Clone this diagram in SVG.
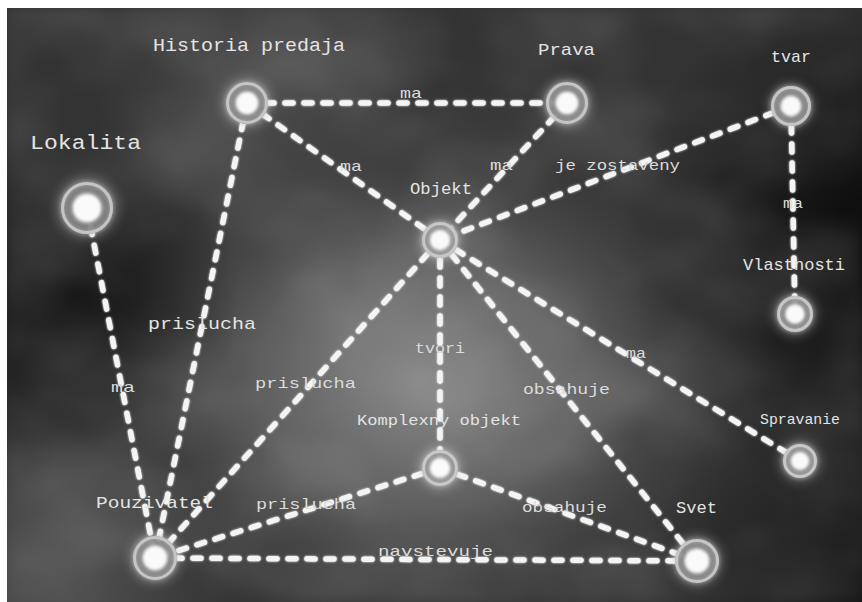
<svg xmlns="http://www.w3.org/2000/svg" width="862" height="602" viewBox="0 0 862 602">
  <defs>
    <!-- soft background lighting -->
    <radialGradient id="bgCenter" cx="420" cy="380" r="360" gradientUnits="userSpaceOnUse" gradientTransform="translate(420 380) scale(1 0.8) translate(-420 -380)">
      <stop offset="0" stop-color="#8c8c8c" stop-opacity="1"/>
      <stop offset="0.45" stop-color="#6a6a6a" stop-opacity="0.8"/>
      <stop offset="1" stop-color="#3a3a3a" stop-opacity="0"/>
    </radialGradient>
    <radialGradient id="darkLeft" cx="70" cy="300" r="170" gradientUnits="userSpaceOnUse">
      <stop offset="0" stop-color="#0e0e0e" stop-opacity="0.9"/>
      <stop offset="1" stop-color="#0e0e0e" stop-opacity="0"/>
    </radialGradient>
    <radialGradient id="darkRight" cx="880" cy="240" r="260" gradientUnits="userSpaceOnUse">
      <stop offset="0" stop-color="#050505" stop-opacity="0.95"/>
      <stop offset="1" stop-color="#050505" stop-opacity="0"/>
    </radialGradient>
    <radialGradient id="lightTop" cx="260" cy="90" r="170" gradientUnits="userSpaceOnUse">
      <stop offset="0" stop-color="#5a5a5a" stop-opacity="0.7"/>
      <stop offset="1" stop-color="#5a5a5a" stop-opacity="0"/>
    </radialGradient>
    <radialGradient id="lightBottomLeft" cx="60" cy="580" r="170" gradientUnits="userSpaceOnUse">
      <stop offset="0" stop-color="#5c5c5c" stop-opacity="0.8"/>
      <stop offset="1" stop-color="#5c5c5c" stop-opacity="0"/>
    </radialGradient>
    <radialGradient id="darkBottomRight" cx="860" cy="600" r="220" gradientUnits="userSpaceOnUse">
      <stop offset="0" stop-color="#101010" stop-opacity="0.8"/>
      <stop offset="1" stop-color="#101010" stop-opacity="0"/>
    </radialGradient>

    <!-- cloud texture -->
    <filter id="clouds" x="0" y="0" width="100%" height="100%">
      <feTurbulence type="fractalNoise" baseFrequency="0.006 0.009" numOctaves="4" seed="7" result="noise"/>
      <feColorMatrix in="noise" type="matrix" values="0 0 0 0 1  0 0 0 0 1  0 0 0 0 1  1.4 0 0 0 -0.55" result="wisps"/>
      <feGaussianBlur in="wisps" stdDeviation="6"/>
    </filter>

    <filter id="glow" x="-50%" y="-50%" width="200%" height="200%">
      <feGaussianBlur stdDeviation="2.5" result="b"/>
      <feMerge><feMergeNode in="b"/><feMergeNode in="SourceGraphic"/></feMerge>
    </filter>
    <filter id="soft" x="-80%" y="-80%" width="260%" height="260%">
      <feGaussianBlur stdDeviation="4"/>
    </filter>
    <filter id="coreBlur" x="-80%" y="-80%" width="260%" height="260%">
      <feGaussianBlur stdDeviation="1.4"/>
    </filter>
    <filter id="edgeGlow" x="-10%" y="-10%" width="120%" height="120%">
      <feGaussianBlur stdDeviation="1.2" result="b"/>
      <feMerge><feMergeNode in="b"/><feMergeNode in="SourceGraphic"/></feMerge>
    </filter>

    <style>
      .edge { stroke: #f4f4f4; stroke-width: 5.5; stroke-dasharray: 8 11; stroke-linecap: round; fill: none; }
      .halo { fill: #ffffff; opacity: 0.16; filter: url(#soft); }
      .back { fill: #6c6c6c; opacity: 0.92; }
      .ring { fill: none; stroke: #c4c4c4; stroke-width: 3; filter: url(#glow); }
      .coreGlow { fill: #ffffff; opacity: 0.55; filter: url(#soft); }
      .core { fill: #fafafa; filter: url(#coreBlur); }
      text { font-family: "Liberation Mono", "DejaVu Sans Mono", monospace; fill: #e4e4e4; }
      .nlabel { font-size: 17px; }
      .elabel { font-size: 15px; fill: #dcdcdc; }
    </style>
  </defs>

  <!-- frame and background -->
  <rect x="0" y="0" width="862" height="602" fill="#ffffff"/>
  <g id="background">
    <rect x="7" y="8" width="855" height="594" fill="#333333"/>
    <rect x="7" y="8" width="855" height="594" fill="url(#lightTop)"/>
    <rect x="7" y="8" width="855" height="594" fill="url(#lightBottomLeft)"/>
    <rect x="7" y="8" width="855" height="594" fill="url(#bgCenter)"/>
    <rect x="7" y="8" width="855" height="594" fill="url(#darkLeft)"/>
    <rect x="7" y="8" width="855" height="594" fill="url(#darkRight)"/>
    <rect x="7" y="8" width="855" height="594" fill="url(#darkBottomRight)"/>
    <rect x="7" y="8" width="855" height="594" filter="url(#clouds)" opacity="0.22"/>
  </g>

  <!-- connectors -->
  <g id="connectors" filter="url(#edgeGlow)">
    <line class="edge" x1="247" y1="103" x2="567" y2="103"/>
    <line class="edge" x1="247" y1="103" x2="440" y2="240"/>
    <line class="edge" x1="247" y1="103" x2="155" y2="558"/>
    <line class="edge" x1="567" y1="103" x2="440" y2="240"/>
    <line class="edge" x1="791" y1="106" x2="440" y2="240"/>
    <line class="edge" x1="791" y1="106" x2="795" y2="314"/>
    <line class="edge" x1="87" y1="208" x2="155" y2="558"/>
    <line class="edge" x1="440" y1="240" x2="155" y2="558"/>
    <line class="edge" x1="440" y1="240" x2="440" y2="468"/>
    <line class="edge" x1="440" y1="240" x2="697" y2="561"/>
    <line class="edge" x1="440" y1="240" x2="800" y2="461"/>
    <line class="edge" x1="440" y1="468" x2="155" y2="558"/>
    <line class="edge" x1="440" y1="468" x2="697" y2="561"/>
    <line class="edge" x1="155" y1="558" x2="697" y2="561"/>
  </g>

  <!-- connector labels -->
  <g id="connector-labels">
    <text class="elabel" x="400" y="98" textLength="22" lengthAdjust="spacingAndGlyphs">ma</text>
    <text class="elabel" x="340" y="171" textLength="22" lengthAdjust="spacingAndGlyphs">ma</text>
    <text class="elabel" x="490" y="170" textLength="23" lengthAdjust="spacingAndGlyphs">ma</text>
    <text class="elabel" x="555" y="170" textLength="125" lengthAdjust="spacingAndGlyphs">je zostaveny</text>
    <text class="elabel" x="783" y="208" textLength="20" lengthAdjust="spacingAndGlyphs">ma</text>
    <text class="nlabel" x="148" y="329" textLength="108" lengthAdjust="spacingAndGlyphs">prislucha</text>
    <text class="elabel" x="111" y="392" textLength="24" lengthAdjust="spacingAndGlyphs">ma</text>
    <text class="elabel" x="255" y="388" textLength="101" lengthAdjust="spacingAndGlyphs">prislucha</text>
    <text class="elabel" x="415" y="353" textLength="50" lengthAdjust="spacingAndGlyphs">tvori</text>
    <text class="elabel" x="626" y="358" textLength="20" lengthAdjust="spacingAndGlyphs">ma</text>
    <text class="elabel" x="523" y="394" textLength="87" lengthAdjust="spacingAndGlyphs">obsahuje</text>
    <text class="elabel" x="256" y="509" textLength="100" lengthAdjust="spacingAndGlyphs">prislucha</text>
    <text class="elabel" x="522" y="512" textLength="85" lengthAdjust="spacingAndGlyphs">obsahuje</text>
    <text class="elabel" x="378" y="556" textLength="115" lengthAdjust="spacingAndGlyphs">navstevuje</text>
  </g>

  <!-- nodes -->
  <g id="node-historia" transform="translate(247 103)">
    <circle class="halo" r="27"/><circle class="back" r="21"/><circle class="ring" r="19.5"/>
    <circle class="coreGlow" r="13"/><circle class="core" r="11"/>
    <text class="nlabel" x="-94" y="-52" textLength="192" lengthAdjust="spacingAndGlyphs" style="font-size:18px">Historia predaja</text>
  </g>
  <g id="node-prava" transform="translate(567 103)">
    <circle class="halo" r="27"/><circle class="back" r="21"/><circle class="ring" r="19.5"/>
    <circle class="coreGlow" r="13"/><circle class="core" r="11"/>
    <text class="nlabel" x="-29" y="-48" textLength="57" lengthAdjust="spacingAndGlyphs">Prava</text>
  </g>
  <g id="node-tvar" transform="translate(791 106)">
    <circle class="halo" r="25"/><circle class="back" r="20"/><circle class="ring" r="18.5"/>
    <circle class="coreGlow" r="12"/><circle class="core" r="10"/>
    <text class="nlabel" x="-20" y="-44" textLength="40" lengthAdjust="spacingAndGlyphs">tvar</text>
  </g>
  <g id="node-lokalita" transform="translate(87 208)">
    <circle class="halo" r="33"/><circle class="back" r="26"/><circle class="ring" r="24.5"/>
    <circle class="coreGlow" r="16"/><circle class="core" r="14"/>
    <text class="nlabel" x="-57" y="-59" textLength="111" lengthAdjust="spacingAndGlyphs" style="font-size:20px">Lokalita</text>
  </g>
  <g id="node-objekt" transform="translate(440 240)">
    <circle class="halo" r="24"/><circle class="back" r="18"/><circle class="ring" r="16.5"/>
    <circle class="coreGlow" r="12"/><circle class="core" r="10"/>
    <text class="nlabel" x="-30" y="-46" textLength="62" lengthAdjust="spacingAndGlyphs">Objekt</text>
  </g>
  <g id="node-vlastnosti" transform="translate(795 314)">
    <circle class="halo" r="24"/><circle class="back" r="18"/><circle class="ring" r="16.5"/>
    <circle class="coreGlow" r="11"/><circle class="core" r="9.5"/>
    <text class="nlabel" x="-52" y="-44" textLength="102" lengthAdjust="spacingAndGlyphs">Vlastnosti</text>
  </g>
  <g id="node-spravanie" transform="translate(800 461)">
    <circle class="halo" r="23"/><circle class="back" r="17"/><circle class="ring" r="15.5"/>
    <circle class="coreGlow" r="11"/><circle class="core" r="9"/>
    <text class="nlabel" x="-40" y="-37" textLength="80" lengthAdjust="spacingAndGlyphs" style="font-size:15px">Spravanie</text>
  </g>
  <g id="node-komplexny" transform="translate(440 468)">
    <circle class="halo" r="24"/><circle class="back" r="18"/><circle class="ring" r="16.5"/>
    <circle class="coreGlow" r="12"/><circle class="core" r="10"/>
    <text class="nlabel" x="-83" y="-43" textLength="164" lengthAdjust="spacingAndGlyphs" style="font-size:15px">Komplexny objekt</text>
  </g>
  <g id="node-pouzivatel" transform="translate(155 558)">
    <circle class="halo" r="28"/><circle class="back" r="22"/><circle class="ring" r="20.5"/>
    <circle class="coreGlow" r="14"/><circle class="core" r="12"/>
    <text class="nlabel" x="-59" y="-50" textLength="117" lengthAdjust="spacingAndGlyphs">Pouzivatel</text>
  </g>
  <g id="node-svet" transform="translate(697 561)">
    <circle class="halo" r="28"/><circle class="back" r="22"/><circle class="ring" r="20.5"/>
    <circle class="coreGlow" r="14"/><circle class="core" r="12"/>
    <text class="nlabel" x="-21" y="-48" textLength="41" lengthAdjust="spacingAndGlyphs">Svet</text>
  </g>
</svg>
